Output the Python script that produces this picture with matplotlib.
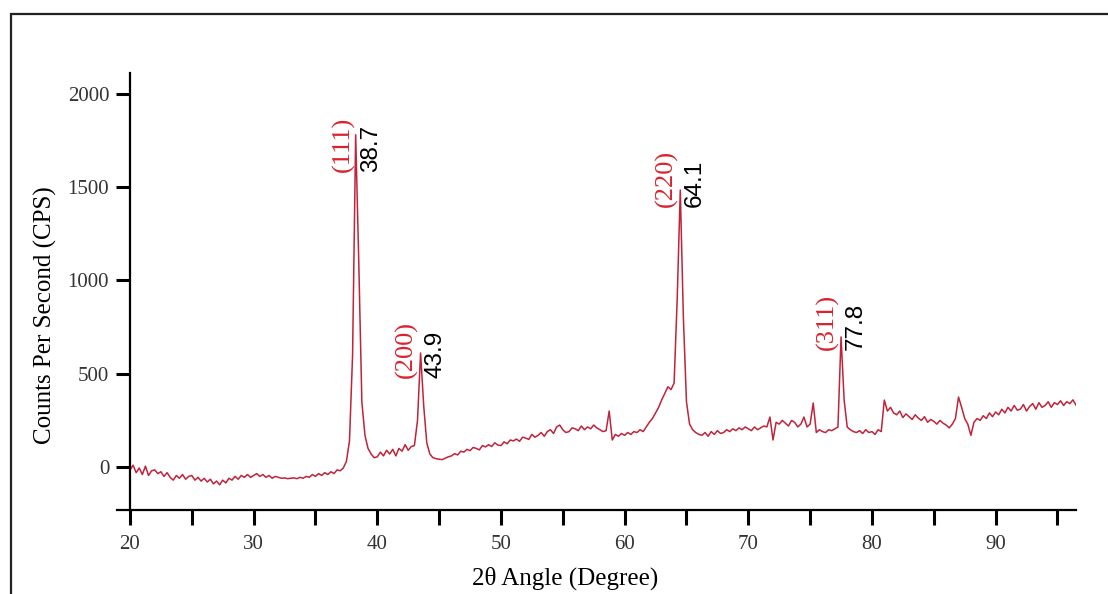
import numpy as np
import matplotlib
matplotlib.use("Agg")
import matplotlib.pyplot as plt
from matplotlib.patches import Rectangle
from matplotlib.ticker import MultipleLocator

# XRD scan, one point every 0.25 degree from 20 to 96.5
start_angle = 20.0
step = 0.25
counts = [
    -16, 10, -30, -5,       # 20
    -40, 5, -45, -20,       # 21
    -15, -35, -25, -50,     # 22
    -30, -55, -70, -45,     # 23
    -60, -40, -65, -50,     # 24
    -45, -70, -55, -75,     # 25
    -60, -80, -65, -90,     # 26
    -75, -95, -70, -85,     # 27
    -60, -70, -50, -65,     # 28
    -45, -55, -40, -55,     # 29
    -45, -35, -50, -40,     # 30
    -55, -45, -60, -50,     # 31
    -55, -60, -58, -62,     # 32
    -60, -58, -62, -55,     # 33
    -60, -50, -55, -40,     # 34
    -50, -35, -45, -30,     # 35
    -40, -25, -35, -15,     # 36
    -20, -5, 30, 140,       # 37
    600, 1780, 1100, 350,   # 38
    170, 100, 70, 50,       # 39
    55, 80, 60, 90,         # 40
    70, 95, 60, 100,        # 41
    85, 120, 90, 110,       # 42
    115, 250, 611, 330,     # 43
    130, 70, 50, 45,        # 44
    42, 40, 48, 55,         # 45
    60, 72, 65, 85,         # 46
    80, 95, 88, 105,        # 47
    100, 92, 115, 108,      # 48
    120, 110, 130, 118,     # 49
    115, 135, 125, 145,     # 50
    140, 150, 138, 160,     # 51
    155, 148, 175, 160,     # 52
    170, 185, 165, 190,     # 53
    200, 180, 215, 225,     # 54
    200, 185, 190, 210,     # 55
    205, 195, 220, 200,     # 56
    215, 205, 225, 210,     # 57
    200, 190, 195, 300,     # 58
    145, 175, 165, 180,     # 59
    170, 185, 175, 190,     # 60
    185, 200, 190, 215,     # 61
    240, 260, 290, 320,     # 62
    360, 395, 430, 415,     # 63
    450, 900, 1484, 800,    # 64
    350, 230, 200, 185,     # 65
    175, 170, 185, 165,     # 66
    190, 175, 195, 180,     # 67
    185, 200, 190, 205,     # 68
    195, 210, 200, 215,     # 69
    205, 195, 215, 200,     # 70
    210, 220, 215, 268,     # 71
    145, 240, 230, 250,     # 72
    235, 220, 250, 240,     # 73
    215, 230, 268, 215,     # 74
    230, 343, 185, 200,     # 75
    190, 185, 200, 195,     # 76
    205, 214, 697, 359,     # 77
    214, 200, 190, 185,     # 78
    195, 180, 200, 185,     # 79
    190, 175, 200, 190,     # 80
    359, 300, 320, 290,     # 81
    280, 300, 265, 285,     # 82
    270, 255, 280, 262,     # 83
    250, 270, 240, 255,     # 84
    245, 230, 250, 235,     # 85
    225, 210, 230, 260,     # 86
    375, 320, 260, 230,     # 87
    170, 240, 260, 250,     # 88
    275, 260, 290, 270,     # 89
    295, 280, 310, 290,     # 90
    320, 300, 330, 305,     # 91
    310, 335, 300, 325,     # 92
    340, 310, 345, 320,     # 93
    330, 350, 320, 345,     # 94
    335, 355, 330, 350,     # 95
    340, 360, 332,          # 96
]
two_theta = start_angle + step * np.arange(len(counts))

# peak labels
peak_pos = [38.35, 43.5, 64.5, 77.5]
peak_hkl = ["(111)", "(200)", "(220)", "(311)"]
peak_text = ["38.7", "43.9", "64.1", "77.8"]
label_base = [1581, 477, 1393, 627]

fig = plt.figure(figsize=(11.08, 5.94), dpi=100)
ax = fig.add_axes([117 / 1108, 84 / 594, 959 / 1108, 437 / 594])

# outer frame of the original figure
fig.patches.append(Rectangle((11 / 1108, -0.2), 1.2, 0.2 + 580 / 594, transform=fig.transFigure,
                             fill=False, edgecolor="#222222", linewidth=1.6, clip_on=False))

ax.plot(two_theta, counts, color="#c0233a", linewidth=1.1)

for x, hkl, txt, yb in zip(peak_pos, peak_hkl, peak_text, label_base):
    ax.annotate(hkl, (x, yb), xytext=(-10, 0), textcoords="offset points", rotation=90,
                ha="center", va="bottom", color="#d9232f", fontsize=19, family="Liberation Serif")
    ax.annotate(txt, (x, yb), xytext=(10.5, 0), textcoords="offset points", rotation=90,
                ha="center", va="bottom", color="black", fontsize=17.5, family="Liberation Sans")

ax.set_xlim(18.95, 96.5)
ax.set_ylim(-230, 2111)
ax.spines["left"].set_position(("data", 20))
ax.spines["top"].set_visible(False)
ax.spines["right"].set_visible(False)
for s in ["left", "bottom"]:
    ax.spines[s].set_linewidth(1.6)

ax.xaxis.set_major_locator(MultipleLocator(10))
ax.xaxis.set_minor_locator(MultipleLocator(5))
ax.set_yticks([0, 500, 1000, 1500, 2000])
ax.tick_params(axis="x", which="both", length=11, width=2.2, direction="out", pad=7)
ax.tick_params(axis="y", length=10, width=2.2, direction="out", pad=5)
for lab in ax.get_xticklabels() + ax.get_yticklabels():
    lab.set_family("Liberation Serif")
    lab.set_fontsize(15)
    lab.set_color("#333333")

ax.set_xlabel("2θ Angle (Degree)", fontsize=18, family="Liberation Serif", va="center")
ax.xaxis.set_label_coords(0.467, -0.156)
ax.set_ylabel("Counts Per Second (CPS)", fontsize=18, family="Liberation Serif", va="center")
ax.yaxis.set_label_coords(-0.075, 0.446)

fig.savefig("out.png", dpi=100)
